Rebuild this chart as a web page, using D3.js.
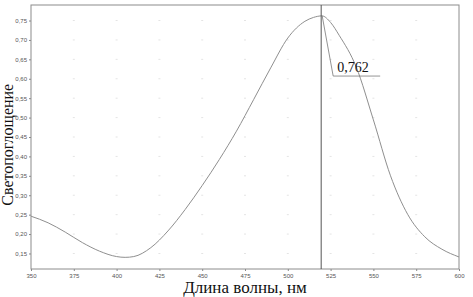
<!DOCTYPE html>
<html>
<head>
<meta charset="utf-8">
<script src="https://cdn.jsdelivr.net/npm/d3@7"></script>
<style>
  body { margin: 0; background: #fff; }
  .tick text { font-family: "Liberation Sans", Arial, sans-serif; font-size: 6px; fill: #555; }
  .axis-label { font-family: "Liberation Serif", "Times New Roman", serif; fill: #111; }
</style>
</head>
<body>
<div id="chart"></div>
<script>
// Spectrum
const wavelengths = [350, 360, 370, 380, 390, 400, 405, 410, 420, 430, 440, 450, 460, 470, 480, 490, 500, 510, 515, 520, 525, 530, 540, 550, 560, 570, 580, 590, 600];
const absorbance  = [0.246, 0.229, 0.205, 0.178, 0.156, 0.142, 0.140, 0.142, 0.165, 0.208, 0.263, 0.325, 0.392, 0.465, 0.546, 0.628, 0.705, 0.748, 0.758, 0.762, 0.745, 0.712, 0.630, 0.494, 0.350, 0.251, 0.193, 0.161, 0.141];
const xTicks = [350, 375, 400, 425, 450, 475, 500, 525, 550, 575, 600];
const yTicks = [0.15, 0.20, 0.25, 0.30, 0.35, 0.40, 0.45, 0.50, 0.55, 0.60, 0.65, 0.70, 0.75];
const peakX = 519.5;
const peakLabel = '0,762';

const data = wavelengths.map((w, i) => ({ w: w, v: absorbance[i] }));

const W = 473, H = 297;
const margin = { top: 5, right: 14, bottom: 28, left: 31 };
const width = W - margin.left - margin.right;
const height = H - margin.top - margin.bottom;

const svg = d3.select('#chart')
    .append('svg')
    .attr('width', W)
    .attr('height', H)
    .append('g')
    .attr('transform', `translate(${margin.left},${margin.top})`);

const x = d3.scaleLinear().domain([350, 600]).range([0, width]);
const y = d3.scaleLinear().domain([0.11, 0.79]).range([height, 0]);

const comma = d3.format('.2f');

// Faint grid dots at tick intersections
const cells = [];
xTicks.slice(1, -1).forEach(t => yTicks.forEach(u => cells.push([t, u])));
svg.selectAll('.gdot')
    .data(cells)
    .enter()
    .append('rect')
    .attr('x', d => x(d[0]) - 1)
    .attr('y', d => y(d[1]) - 0.5)
    .attr('width', 2)
    .attr('height', 1)
    .attr('fill', '#e4e4e4');

// Axes
svg.append('g')
    .attr('transform', `translate(0,${height})`)
    .call(d3.axisBottom(x).tickValues(xTicks).tickSize(2).tickPadding(3).tickFormat(d3.format('d')))
    .call(g => g.select('.domain').remove())
    .call(g => g.selectAll('line').attr('stroke', '#888'));

svg.append('g')
    .call(d3.axisLeft(y).tickValues(yTicks).tickSize(2).tickPadding(2).tickFormat(d => comma(d).replace('.', ',')))
    .call(g => g.select('.domain').remove())
    .call(g => g.selectAll('line').attr('stroke', '#888'));

// Frame
svg.append('rect')
    .attr('width', width)
    .attr('height', height)
    .attr('fill', 'none')
    .attr('stroke', '#8c8c8c')
    .attr('stroke-width', 1);

// Curve
const line = d3.line()
    .x(d => x(d.w))
    .y(d => y(d.v))
    .curve(d3.curveMonotoneX);

svg.append('path')
    .datum(data)
    .attr('fill', 'none')
    .attr('stroke', '#8f8f8f')
    .attr('stroke-width', 1)
    .attr('d', line);

// Peak marker
svg.append('line')
    .attr('x1', x(peakX)).attr('x2', x(peakX))
    .attr('y1', 0).attr('y2', height)
    .attr('stroke', '#555')
    .attr('stroke-width', 1);

const px = x(peakX), py = y(0.762);
const lx = px + 12, ly = y(0.607);
svg.append('polyline')
    .attr('points', `${px + 1},${py} ${lx},${ly} ${lx + 47},${ly}`)
    .attr('fill', 'none')
    .attr('stroke', '#777')
    .attr('stroke-width', 0.8);

svg.append('text')
    .attr('class', 'axis-label')
    .attr('x', lx + 4)
    .attr('y', ly - 4)
    .style('font-size', '14px')
    .text(peakLabel);

// Axis labels
svg.append('text')
    .attr('class', 'axis-label')
    .attr('x', x(475))
    .attr('y', height + 24)
    .attr('text-anchor', 'middle')
    .style('font-size', '17px')
    .text('Длина волны, нм');

svg.append('text')
    .attr('class', 'axis-label')
    .attr('transform', 'rotate(-90)')
    .attr('x', -(y(0.43)))
    .attr('y', -18)
    .attr('text-anchor', 'middle')
    .style('font-size', '16px')
    .text('Светопоглощение');
</script>
</body>
</html>
